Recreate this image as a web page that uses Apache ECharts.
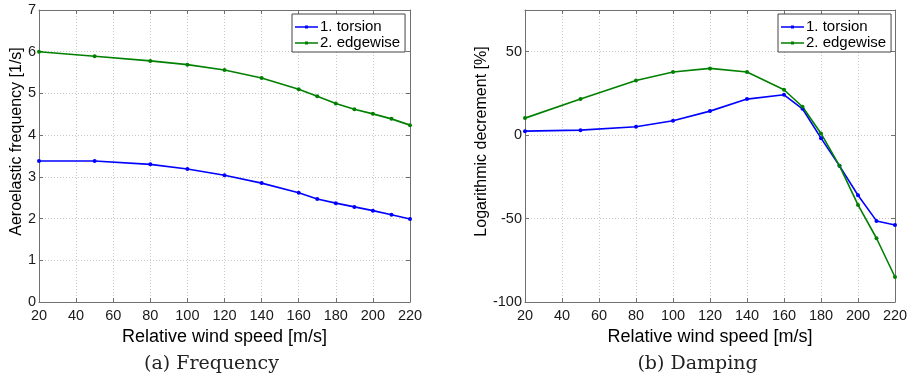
<!DOCTYPE html>
<html><head><meta charset="utf-8">
<script src="https://cdn.jsdelivr.net/npm/echarts@6/dist/echarts.min.js"></script>
<style>html,body{margin:0;padding:0;background:#fff;}#c{width:911px;height:379px;}</style>
</head><body><div id="c"></div>
<script>
const speeds = [20, 50, 80, 100, 120, 140, 160, 170, 180, 190, 200, 210, 220];
const freqTorsion = [3.38, 3.38, 3.30, 3.19, 3.04, 2.85, 2.62, 2.47, 2.37, 2.28, 2.19, 2.09, 1.99];
const freqEdgewise = [6.00, 5.89, 5.78, 5.69, 5.56, 5.37, 5.10, 4.93, 4.76, 4.62, 4.51, 4.39, 4.24];
const dampTorsion = [2.4, 3.0, 5.0, 8.6, 14.4, 21.6, 24.2, 15.8, -1.8, -18.4, -36.0, -51.4, -53.8];
const dampEdgewise = [10.2, 21.6, 32.8, 37.8, 40.0, 37.8, 27.2, 17.0, 1.0, -18.4, -41.8, -61.8, -85.0];
const seriesNames = ['1. torsion', '2. edgewise'];
const xTitle = 'Relative wind speed [m/s]';
const yTitles = ['Aeroelastic frequency [1/s]', 'Logarithmic decrement [%]'];
const captions = ['(a) Frequency', '(b) Damping'];

const BLUE = '#0000ff', GREEN = '#008000';
const FRAME = '#707070';
const font = 'Liberation Sans, Arial, sans-serif';

function pairs(xs, ys) { return xs.map((x, i) => [x, ys[i]]); }

function mainX(gi) {
  return {
    type: 'value', gridIndex: gi, min: 20, max: 220, interval: 20, position: 'bottom',
    name: xTitle, nameLocation: 'middle', nameGap: 20,
    nameTextStyle: { fontFamily: font, fontSize: 18, color: '#000', verticalAlign: 'top' },
    axisLine: { show: true, onZero: false, lineStyle: { color: FRAME, width: 1 } },
    axisTick: { show: true, inside: true, length: 4, lineStyle: { color: FRAME } },
    axisLabel: { fontFamily: font, fontSize: 14.5, color: '#1a1a1a', margin: 6 },
    splitLine: { show: true, lineStyle: { color: '#c8c8c8', type: [1, 2], width: 1 } }
  };
}
function topX(gi) {
  return {
    type: 'value', gridIndex: gi, min: 20, max: 220, interval: 20, position: 'top',
    axisLine: { show: true, onZero: false, lineStyle: { color: FRAME, width: 1 } },
    axisTick: { show: true, inside: true, length: 4, lineStyle: { color: FRAME } },
    axisLabel: { show: false }, splitLine: { show: false }
  };
}
function mainY(gi, min, max, interval, hideMax) {
  return {
    type: 'value', gridIndex: gi, min: min, max: max, interval: interval, position: 'left',
    axisLine: { show: true, onZero: false, lineStyle: { color: FRAME, width: 1 } },
    axisTick: { show: true, inside: true, length: 4, lineStyle: { color: FRAME } },
    axisLabel: { fontFamily: font, fontSize: 14.5, color: '#1a1a1a', margin: 3, showMaxLabel: !hideMax },
    splitLine: { show: true, lineStyle: { color: '#c8c8c8', type: [1, 2], width: 1 } }
  };
}
function rightY(gi, min, max, interval) {
  return {
    type: 'value', gridIndex: gi, min: min, max: max, interval: interval, position: 'right',
    axisLine: { show: true, onZero: false, lineStyle: { color: FRAME, width: 1 } },
    axisTick: { show: true, inside: true, length: 4, lineStyle: { color: FRAME } },
    axisLabel: { show: false }, splitLine: { show: false }
  };
}
function line(name, data, color, xi, yi) {
  return {
    type: 'line', name: name, data: data, xAxisIndex: xi, yAxisIndex: yi,
    symbol: 'circle', symbolSize: 4, showSymbol: true,
    lineStyle: { color: color, width: 1.6 }, itemStyle: { color: color },
    animation: false, z: 5
  };
}
const legendIcon = 'path://M0,0.8L23,0.8L23,2.2L0,2.2Z M10,0L13,0L13,3L10,3Z';
function legend(left) {
  return {
    data: seriesNames.map(n => ({ name: n, icon: legendIcon })),
    left: left, top: 14, orient: 'vertical', itemGap: 0, itemWidth: 23, itemHeight: 3,
    padding: [5, 5, 1, 3], backgroundColor: '#fff', borderColor: '#444', borderWidth: 1,
    itemStyle: { borderWidth: 0 },
    textStyle: { fontFamily: font, fontSize: 15, lineHeight: 16, color: '#000', padding: [0, 0, 0, -3] },
    selectedMode: false
  };
}

const chart = echarts.init(document.getElementById('c'), null, { renderer: 'canvas' });
chart.setOption({
  backgroundColor: '#fff',
  animation: false,
  grid: [
    { left: 39, right: 501, top: 10, bottom: 77, containLabel: false },
    { left: 525, right: 16, top: 10, bottom: 77, containLabel: false }
  ],
  xAxis: [mainX(0), topX(0), mainX(1), topX(1)],
  yAxis: [
    mainY(0, 0, 7, 1, false), rightY(0, 0, 7, 1),
    mainY(1, -100, 75, 50, true), rightY(1, -100, 75, 50)
  ],
  legend: [legend(292), legend(778)],
  graphic: [
    { type: 'text', x: 16.5, y: 141.5, rotation: Math.PI / 2,
      style: { text: yTitles[0], font: '16px "Liberation Sans", Arial, sans-serif', fill: '#000', align: 'center', verticalAlign: 'middle' } },
    { type: 'text', x: 482, y: 141.5, rotation: Math.PI / 2,
      style: { text: yTitles[1], font: '16px "Liberation Sans", Arial, sans-serif', fill: '#000', align: 'center', verticalAlign: 'middle' } },
    { type: 'text', x: 211.5, y: 364, style: { text: captions[0], font: '19px "DejaVu Serif", "Liberation Serif", serif', fill: '#222', align: 'center', verticalAlign: 'middle' } },
    { type: 'text', x: 697.5, y: 364, style: { text: captions[1], font: '19px "DejaVu Serif", "Liberation Serif", serif', fill: '#222', align: 'center', verticalAlign: 'middle' } }
  ],
  series: [
    line(seriesNames[0], pairs(speeds, freqTorsion), BLUE, 0, 0),
    line(seriesNames[1], pairs(speeds, freqEdgewise), GREEN, 0, 0),
    line(seriesNames[0], pairs(speeds, dampTorsion), BLUE, 2, 2),
    line(seriesNames[1], pairs(speeds, dampEdgewise), GREEN, 2, 2)
  ]
});
</script></body></html>
